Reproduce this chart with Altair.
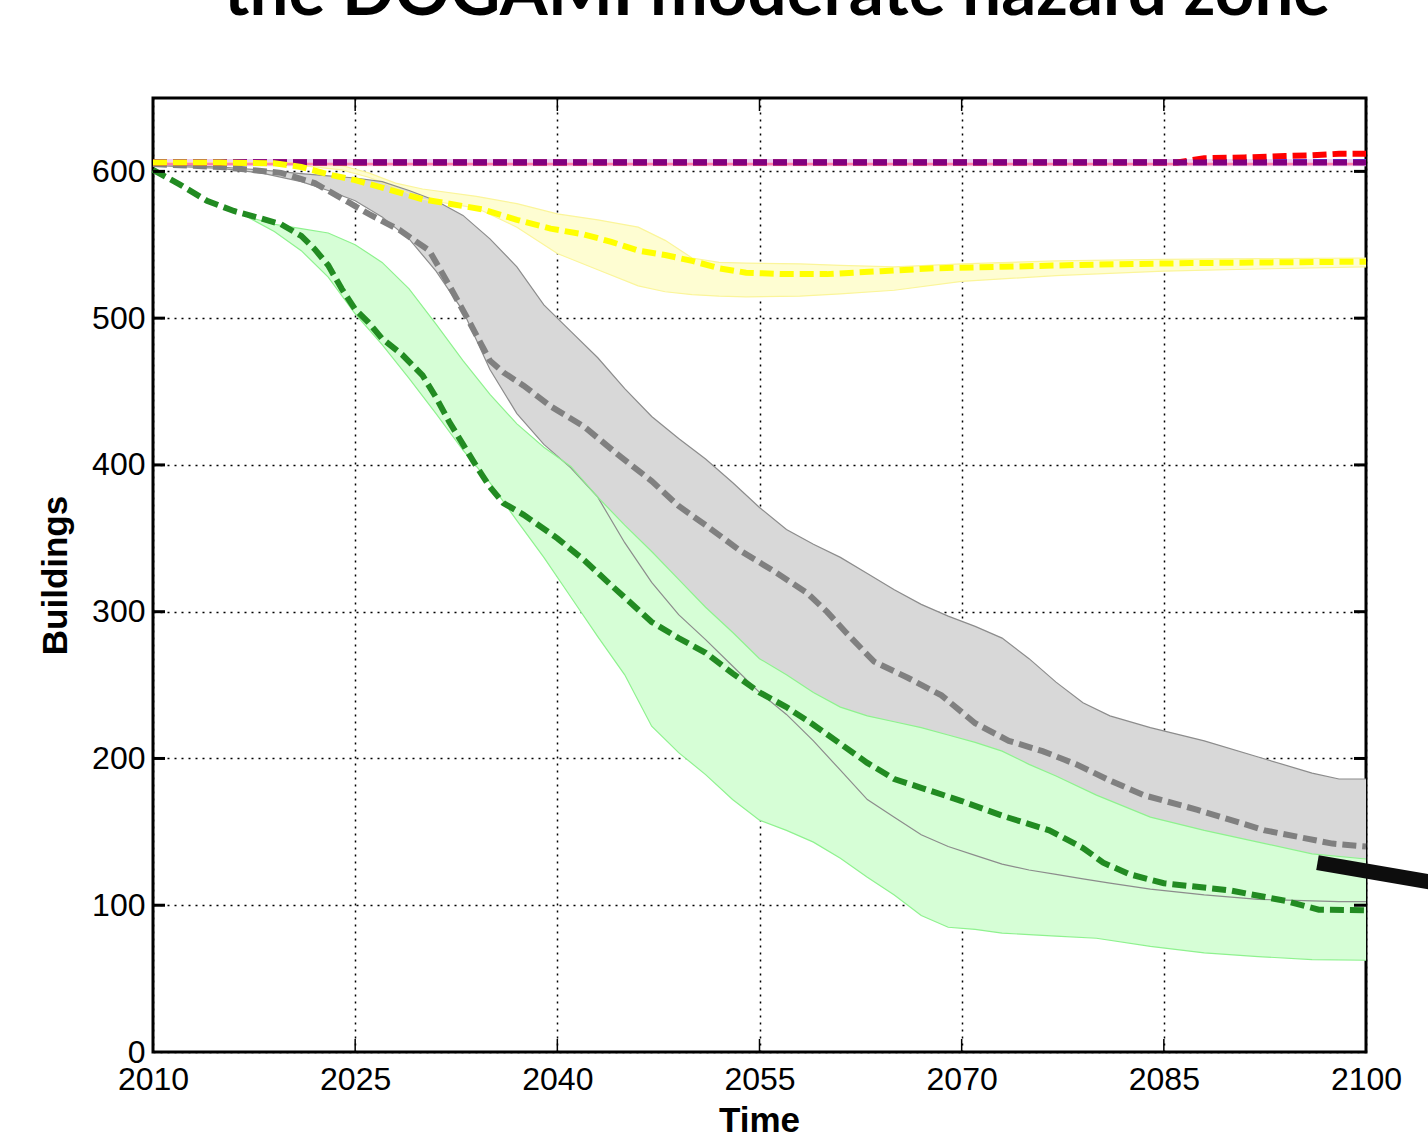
import altair as alt
import pandas as pd

# ---------------- data ----------------
title_text = "the DOGAMI moderate hazard zone"

x_ticks = [2010, 2025, 2040, 2055, 2070, 2085, 2100]
y_ticks = [0, 100, 200, 300, 400, 500, 600]
inner_x_ticks = [2025, 2040, 2055, 2070, 2085]
inner_y_ticks = [100, 200, 300, 400, 500, 600]

# yellow scenario
yellow_band_years = [2010, 2020, 2024, 2026, 2028, 2030, 2034, 2037, 2040, 2043, 2046, 2048,
                     2050, 2052, 2054, 2058, 2061, 2065, 2070, 2077, 2085, 2092, 2100]
yellow_upper = [606, 606, 604, 599, 592, 588, 583, 578, 571, 567, 562, 553,
                541, 538, 537.5, 537, 536, 535, 537, 539, 540, 540.5, 541]
yellow_lower = [606, 605, 601, 596, 589, 581, 575, 562, 544, 533, 522, 518,
                516, 515, 514.5, 515, 516.5, 519, 525, 529, 532, 533.5, 535]
yellow_mid_years = [2010, 2015, 2019, 2021, 2023, 2025, 2027, 2030, 2032, 2034.5, 2037, 2039.5,
                    2042, 2044, 2046, 2048, 2050, 2052, 2054, 2057, 2060, 2062, 2064, 2068,
                    2073, 2080, 2087, 2093, 2100]
yellow_mid = [606, 606, 605.5, 603, 598, 594, 589, 581, 578, 574, 567, 561,
              557, 552, 546, 543, 539, 534, 531, 530, 530, 531, 532, 534,
              535, 536.5, 537.5, 538, 538.5]

# gray scenario
gray_band_years = [2010, 2015, 2018, 2021, 2023, 2025, 2027, 2029, 2031, 2033, 2035, 2037,
                   2039, 2041, 2043, 2045, 2047, 2049, 2051, 2053, 2055, 2057, 2059, 2061,
                   2063, 2065, 2067, 2069, 2071, 2073, 2075, 2077, 2079, 2081, 2084, 2088,
                   2092, 2096, 2098, 2100]
gray_upper = [605, 603, 601, 598.5, 597, 595.5, 593, 587, 580, 570, 554, 535,
              509, 491, 473, 452, 433, 418, 404, 388, 371, 356, 346, 337,
              326, 315, 305, 297, 290, 282, 268, 252, 238, 229, 221, 212,
              201, 190, 186, 186]
gray_lower = [604, 602, 599, 593, 587, 580, 569, 554, 532, 505, 465, 435,
              414, 398, 378, 347, 320, 298, 281, 263, 245, 230, 212, 192,
              172, 160, 148, 140, 134, 128, 124, 121, 118, 115, 111, 107,
              104, 103, 102.5, 102.5]
gray_mid_years = [2010, 2015, 2019.5, 2022, 2024.5, 2026, 2028.3, 2030.5, 2032, 2033.5, 2035,
                  2036, 2037.5, 2039.5, 2042, 2044.5, 2047, 2049, 2051, 2053.5, 2056, 2058.5,
                  2060, 2061.5, 2063.5, 2066, 2068.5, 2071, 2073.5, 2076, 2078.5, 2081,
                  2083.5, 2087.5, 2092.5, 2097.5, 2100]
gray_mid = [605, 603, 599, 592, 579, 571, 560, 546, 522, 497, 471,
            463, 454, 440, 426, 407, 389, 372, 359, 342, 328, 313,
            300, 285, 266, 255, 243, 224, 212, 205, 196, 185,
            175, 165, 151, 142, 140]

# green scenario
green_band_years = [2017, 2019, 2021, 2023, 2025, 2027, 2029, 2031, 2033, 2035, 2037, 2039,
                    2041, 2043, 2045, 2047, 2049, 2051, 2053, 2055, 2057, 2059, 2061, 2063,
                    2065, 2067, 2069, 2071, 2073, 2075, 2077, 2080, 2084, 2088, 2092, 2096, 2100]
green_upper = [569, 564, 561, 558, 550, 538, 520, 496, 471, 448, 428, 412,
               399, 378, 359, 341, 322, 303, 286, 268, 257, 245, 235, 229,
               225, 221, 216, 211, 205, 196, 188, 175, 160, 151, 143, 135, 131.5]
green_lower = [569, 559, 546, 528, 503, 482, 459, 435, 410, 388, 362, 337,
               310, 283, 257, 222, 204, 189, 172, 158, 151, 143, 132, 119,
               107, 93, 85, 83.5, 81, 80, 79, 77.5, 72, 67.5, 65, 63, 62.5]
green_mid_years = [2010, 2012, 2014, 2016, 2018, 2019.5, 2021, 2022, 2023, 2024, 2025, 2026,
                   2027, 2028.5, 2030, 2031, 2032, 2033, 2034, 2035, 2036, 2037.5, 2040, 2042,
                   2044, 2047, 2049, 2051, 2053, 2055, 2057, 2059, 2061, 2063, 2065, 2067,
                   2070, 2073, 2076.5, 2079, 2080.5, 2082.5, 2085, 2090, 2094, 2096.5, 2100]
green_mid = [601, 591, 580, 573, 568, 564, 556, 547, 536, 520, 506, 497,
             486, 475, 461, 446, 429, 414, 399, 385, 374, 366, 350, 335,
             318, 293, 282, 272, 258, 245, 235, 223, 210, 197, 186, 180,
             171, 161, 151, 139, 129, 121, 115, 110, 103, 97, 96.5]

# flat scenarios near the top
flat_years = [2010, 2100]
pink_vals = [605, 605]
blue_vals = [607.5, 607.5]
purple_vals = [606, 606]
lilac_lo = [603.5, 603.5]
lilac_hi = [608.5, 608.5]
red_years = [2010, 2086, 2088, 2091, 2094, 2096, 2098, 2100]
red_vals = [606, 606, 609, 609.5, 610.5, 611, 612, 612]

# black annotation pointer (from the slide, runs off the right edge)
pointer_years = [2096.4, 2105.5]
pointer_vals = [129.1, 114.7]

# ---------------- styling ----------------
W, H = 1213, 954
LABEL_FONT = "Liberation Sans"

x_scale = alt.Scale(domain=[2010, 2100], nice=False, zero=False)
y_scale = alt.Scale(domain=[0, 650], nice=False, zero=True)

grid_kw = dict(grid=True, gridDash=[2, 5], gridColor="black", gridOpacity=1, gridWidth=1.5,
               ticks=False, domain=False, labelFont=LABEL_FONT, labelFontSize=32,
               labelColor="black", labelOverlap=False, labelFlush=False,
               titleFont=LABEL_FONT, titleFontSize=35, titleFontWeight="bold", titleColor="black")

x_axis = alt.Axis(values=x_ticks, format="d", title="Time", labelPadding=12,
                  titleX=606, titleY=79, titleBaseline="alphabetic", titleAlign="center",
                  **grid_kw)
y_axis = alt.Axis(values=y_ticks, format="d", title="Buildings", labelPadding=8,
                  titleX=-87, titleY=477, titleBaseline="alphabetic", titleAlign="center",
                  titleAngle=270, **grid_kw)


def X(field="year"):
    return alt.X(f"{field}:Q", scale=x_scale, axis=x_axis)


def Y(field="value"):
    return alt.Y(f"{field}:Q", scale=y_scale, axis=y_axis)


def band(years, lower, upper, fill):
    df = pd.DataFrame({"year": years, "lo": lower, "hi": upper})
    return alt.Chart(df).mark_area(color=fill, opacity=1, strokeWidth=0).encode(
        x=X(), y=Y("lo"), y2="hi:Q")


def line(years, vals, color, width, dash=None):
    df = pd.DataFrame({"year": years, "value": vals})
    kw = dict(color=color, strokeWidth=width, strokeCap="butt")
    if dash:
        kw["strokeDash"] = dash
    return alt.Chart(df).mark_line(**kw).encode(x=X(), y=Y())


DASH = [14, 6]
LW = 6

layers = [
    band(yellow_band_years, yellow_lower, yellow_upper, "#fefdd2"),
    band(gray_band_years, gray_lower, gray_upper, "#d8d8d8"),
    band(green_band_years, green_lower, green_upper, "#d6fed6"),
    band(flat_years, lilac_lo, lilac_hi, "#ecd2f2"),
    line(yellow_band_years, yellow_upper, "#fbf59a", 1.2),
    line(yellow_band_years, yellow_lower, "#fbf59a", 1.2),
    line(gray_band_years, gray_upper, "#8c8c8c", 1.2),
    line(gray_band_years, gray_lower, "#8c8c8c", 1.2),
    line(green_band_years, green_upper, "#8ef28e", 1.2),
    line(green_band_years, green_lower, "#8ef28e", 1.2),
    line(green_mid_years, green_mid, "#228b22", LW, DASH),
    line(gray_mid_years, gray_mid, "#808080", LW, DASH),
    line(flat_years, pink_vals, "#ff7fa8", 2.5),
    line(flat_years, blue_vals, "#4a4aff", 3, DASH),
    line(red_years, red_vals, "#ff0000", LW, DASH),
    line(flat_years, purple_vals, "#800080", LW, DASH),
    line(yellow_mid_years, yellow_mid, "#ffff00", LW, DASH),
]

# inward tick marks on all four sides
ty = pd.DataFrame({"value": inner_y_ticks})
tx = pd.DataFrame({"year": inner_x_ticks})
layers += [
    alt.Chart(ty).mark_rule(color="black", strokeWidth=3).encode(
        y=Y(), x=alt.value(0), x2=alt.value(12)),
    alt.Chart(ty).mark_rule(color="black", strokeWidth=3).encode(
        y=Y(), x=alt.value(W - 12), x2=alt.value(W)),
    alt.Chart(tx).mark_rule(color="black", strokeWidth=1.5).encode(
        x=X(), y=alt.value(H - 13), y2=alt.value(H)),
    alt.Chart(tx).mark_rule(color="black", strokeWidth=1.5).encode(
        x=X(), y=alt.value(0), y2=alt.value(13)),
]

# annotation pointer
pdf = pd.DataFrame({"year": pointer_years, "value": pointer_vals})
layers.append(
    alt.Chart(pdf).mark_line(color="#0d0d0d", strokeWidth=15, strokeCap="butt", clip=False)
    .encode(x=X(), y=Y())
)

# slide title (cut off at the top edge)
tdf = pd.DataFrame({"t": [title_text]})
layers.append(
    alt.Chart(tdf).mark_text(font="Lato", fontSize=69, fontWeight="bold", color="black",
                             align="center", baseline="alphabetic", clip=False)
    .encode(text="t:N", x=alt.value(624), y=alt.value(-83))
)

chart = alt.layer(*layers).properties(
    width=W, height=H,
    autosize=alt.AutoSizeParams(type="none"),
    padding={"left": 153, "top": 98, "right": 62, "bottom": 86},
    background="white",
).configure_view(stroke="black", strokeWidth=3)

chart.save("out.html", embed_options={"renderer": "svg", "actions": False})
